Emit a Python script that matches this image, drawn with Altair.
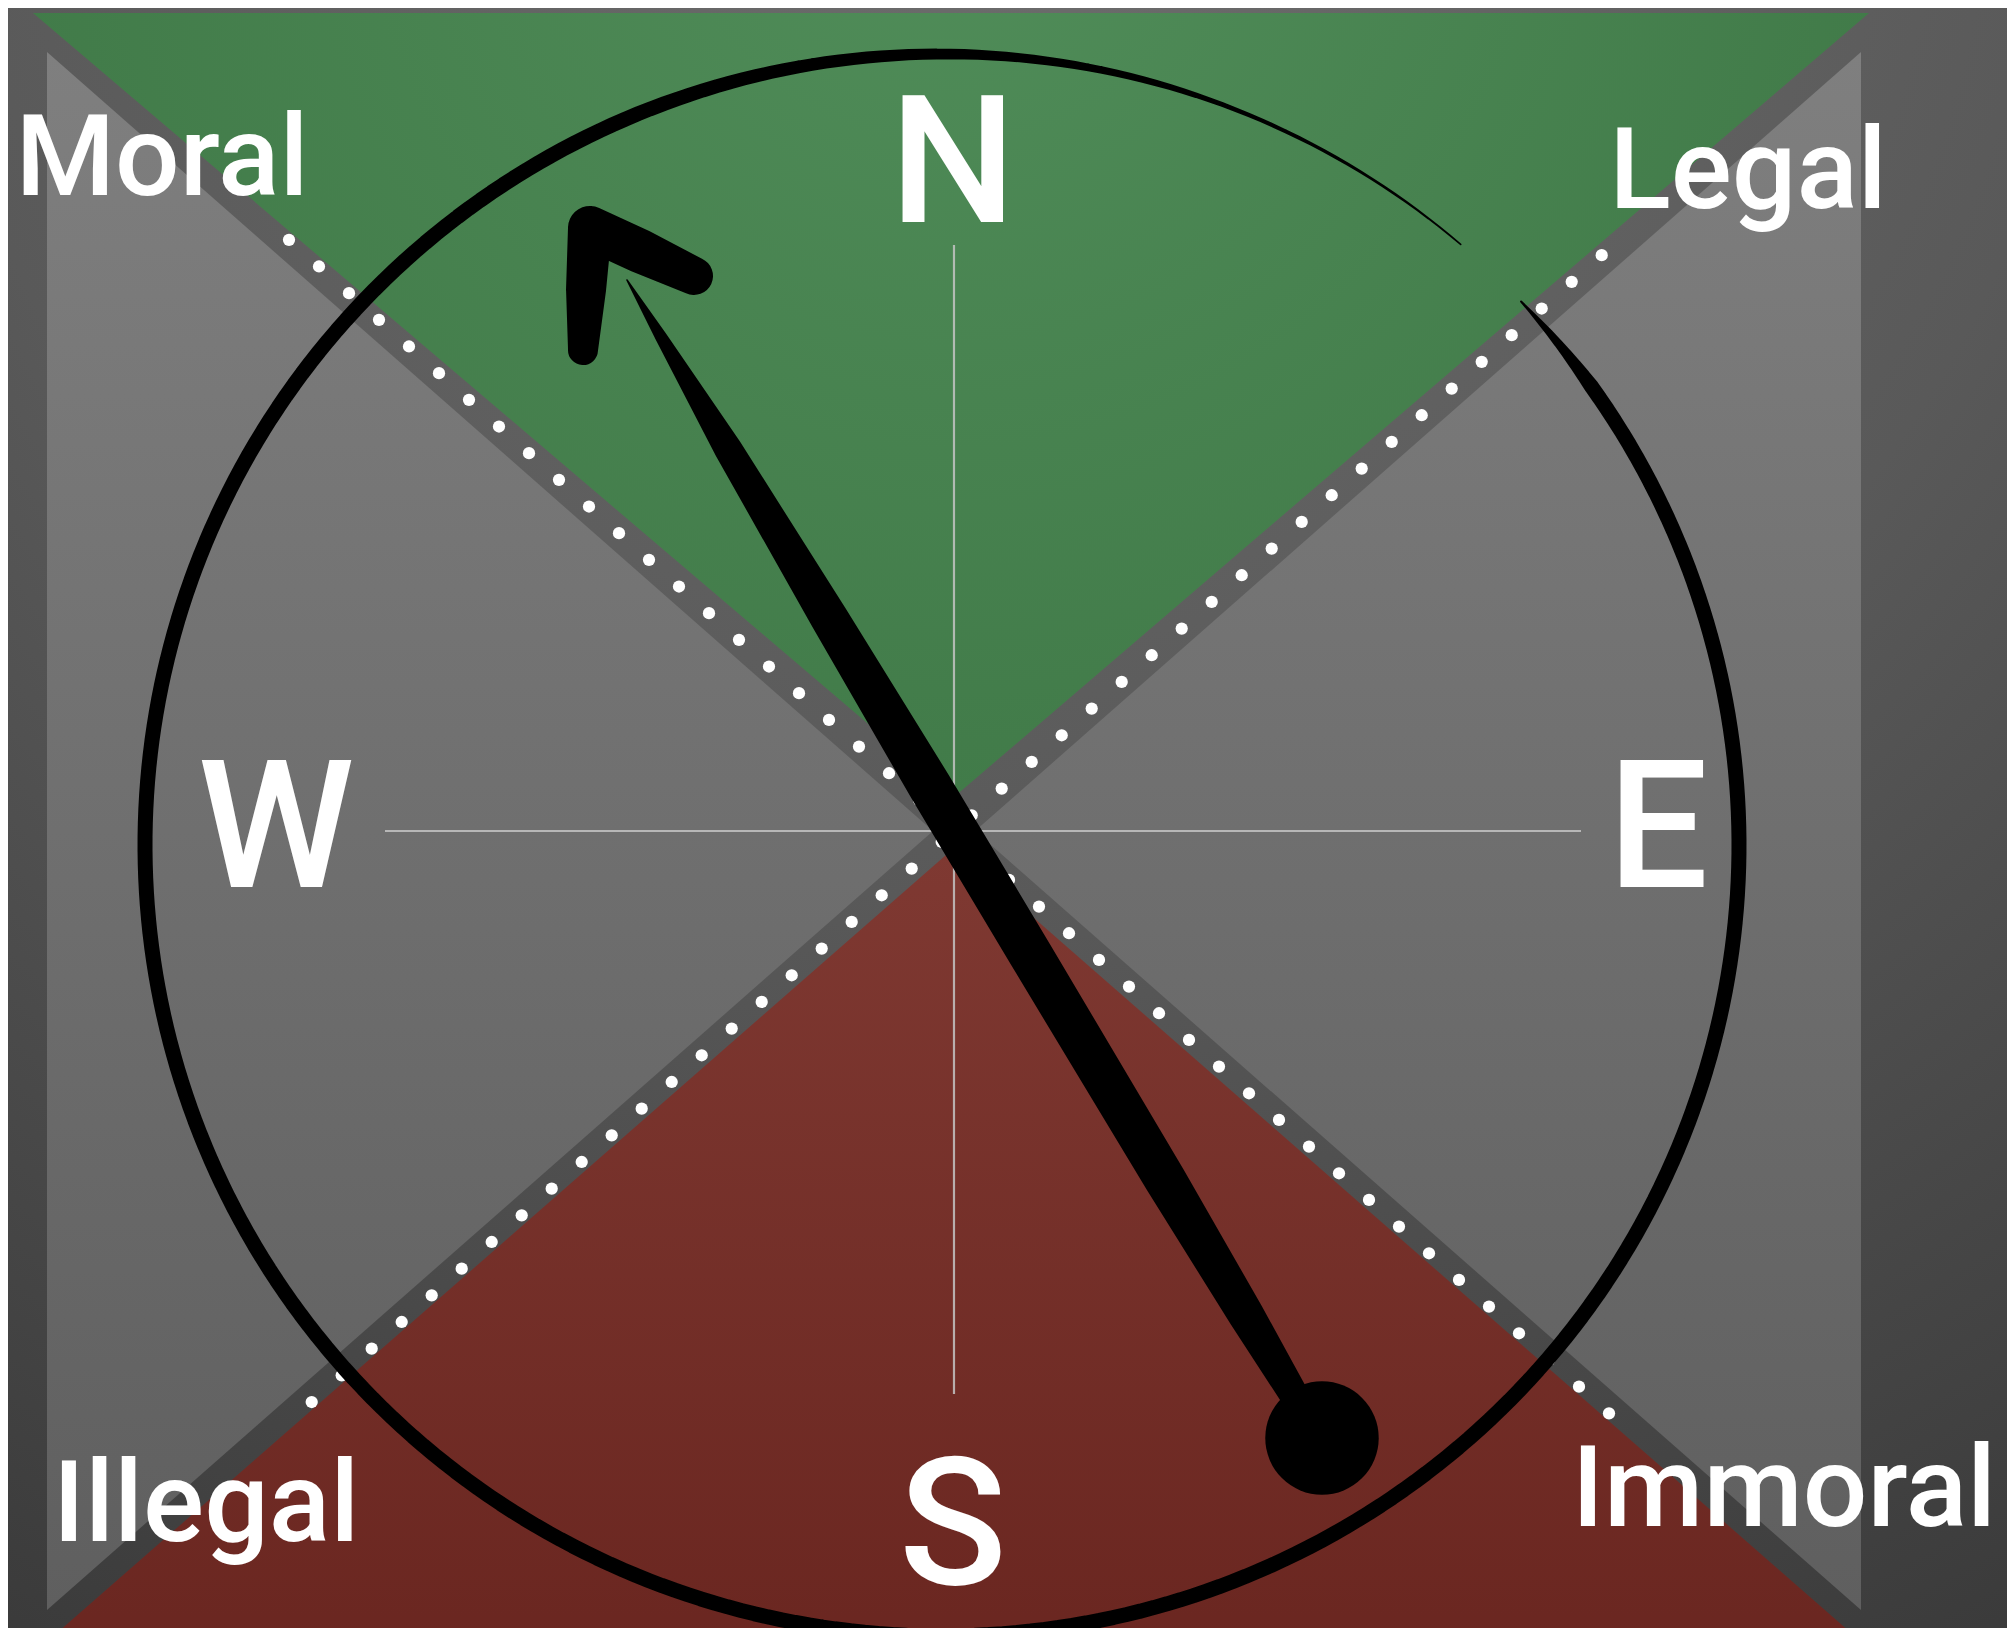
import altair as alt
import numpy as np
import pandas as pd

# ---- canvas (page pixels; the chart starts at the 8px page margin) ----
W, H = 1999, 1620
X0, Y0 = 8, 8
xs = alt.Scale(domain=[X0, X0 + W], nice=False, zero=False)
ys = alt.Scale(domain=[Y0, Y0 + H], nice=False, zero=False, reverse=True)


def X(f="x"):
    return alt.X(f"{f}:Q", scale=xs, axis=None)


def Y(f="y"):
    return alt.Y(f"{f}:Q", scale=ys, axis=None)


# ---- shapes ----
CENTER = (954, 831)
GREEN_X = [33, 954, 1869]
GREEN_TOP = [13, 13, 13]
GREEN_BOTTOM = [13, 797, 13]
RED_X = [26, 954, 1882]
RED_BOTTOM = [1660, 1660, 1660]
RED_TOP = [1660, 848, 1660]
GRAYL_Y = [52, 831, 1610]
GRAYL_X = [47, 47, 47]
GRAYL_X2 = [47, 933, 47]
GRAYR_Y = [52, 831, 1610]
GRAYR_X = [1861, 1861, 1861]
GRAYR_X2 = [1861, 975, 1861]

DOT_SLOPE = 0.889
DOTS_A_X = list(range(289, 1610, 30))       # upper-left -> lower-right band
DOTS_B_X = [941.7 + 30 * k for k in range(-21, 23)]  # lower-left -> upper-right band

CROSS_X = [954, 385]
CROSS_X2 = [954, 1581]
CROSS_Y = [245, 831]
CROSS_Y2 = [1394, 831]

CIRCLE = dict(cx=942, cy=845, rx=797, ry=791, start=43.4, sweep=354.8)
CIRCLE_W_S = [0, 8, 290, 313, 335, 354.8]
CIRCLE_W = [2, 15, 15, 11, 4.5, 1.5]

NEEDLE_T = [0, 0.05, 0.15, 0.3, 0.45, 0.6, 0.8, 0.92, 1.0]
NEEDLE_W = [1.5, 12, 28, 38, 44, 44, 42, 36, 28]
NEEDLE_FROM = (627, 280)
NEEDLE_TO = (1300, 1405)
BALL = (1322, 1438)
BALL_R = 64

ARROW_X = [583, 586, 590, 640, 694]
ARROW_Y = [350, 290, 228, 251, 276]
ARROW_W = [30, 40, 44, 44, 38]

LABELS = ["Moral", "Legal", "Illegal", "Immoral"]
LABEL_X = [162, 1748, 206, 1784]
LABEL_Y = [195, 208, 1541, 1526]
COMPASS = ["N", "S", "W", "E"]
COMPASS_X = [953, 953, 276, 1658]
COMPASS_Y = [222, 1584, 887, 887]

FONT = "Roboto"


def lin(c1, c2):
    return {"gradient": "linear", "x1": 0, "y1": 0, "x2": 0, "y2": 1,
            "stops": [{"offset": 0, "color": c1}, {"offset": 1, "color": c2}]}


def rad(stops, cx, cy, r):
    return {"gradient": "radial", "x1": cx, "y1": cy, "r1": 0, "x2": cx, "y2": cy, "r2": r,
            "stops": [{"offset": o, "color": c} for o, c in stops]}


# background
bg = alt.Chart(pd.DataFrame({"x": [0], "x2": [2015], "y": [0], "y2": [1643]})).mark_rect(
    clip=True, fill=rad([(0, "#6e6e6e"), (0.45, "#595959"), (1, "#303030")], 0.5, 0.0, 1.2), strokeWidth=0
).encode(x=X(), x2=alt.X2("x2"), y=Y(), y2=alt.Y2("y2"))

gray_fill = lin("#7f7f7f", "#5f5f5f")
gray_l = alt.Chart(pd.DataFrame({"y": GRAYL_Y, "x": GRAYL_X, "x2": GRAYL_X2})).mark_area(
    orient="horizontal", interpolate="linear", fill=gray_fill, clip=True
).encode(y=Y(), x=X(), x2=alt.X2("x2"))
gray_r = alt.Chart(pd.DataFrame({"y": GRAYR_Y, "x": GRAYR_X, "x2": GRAYR_X2})).mark_area(
    orient="horizontal", interpolate="linear", fill=gray_fill, clip=True
).encode(y=Y(), x=X(), x2=alt.X2("x2"))

green = alt.Chart(pd.DataFrame({"x": GREEN_X, "y": GREEN_TOP, "y2": GREEN_BOTTOM})).mark_area(
    orient="vertical", interpolate="linear",
    fill=rad([(0, "#518e5a"), (1, "#397140")], 0.5, 0.2, 0.78), clip=True
).encode(x=X(), y=Y(), y2=alt.Y2("y2"))

red = alt.Chart(pd.DataFrame({"x": RED_X, "y": RED_BOTTOM, "y2": RED_TOP})).mark_area(
    orient="vertical", interpolate="linear", fill=lin("#7f3932", "#6a2620"), clip=True
).encode(x=X(), y=Y(), y2=alt.Y2("y2"))

cross = alt.Chart(pd.DataFrame({"x": CROSS_X, "x2": CROSS_X2, "y": CROSS_Y, "y2": CROSS_Y2})).mark_rule(
    color="#c4c4c4", strokeWidth=2.2, opacity=0.85
).encode(x=X(), x2=alt.X2("x2"), y=Y(), y2=alt.Y2("y2"))

cxc, cyc = CENTER
dots_df = pd.DataFrame({
    "x": list(DOTS_A_X) + list(DOTS_B_X),
    "y": [cyc + DOT_SLOPE * (x - cxc) for x in DOTS_A_X] + [cyc - DOT_SLOPE * (x - cxc) for x in DOTS_B_X],
})
dots = alt.Chart(dots_df).mark_circle(color="white", opacity=1, size=150).encode(x=X(), y=Y())

# circle (brush stroke that tapers at the top right)
s = np.arange(0, CIRCLE["sweep"] + 0.01, 1.0)
th = np.radians(CIRCLE["start"] - s)
circ_df = pd.DataFrame({
    "x": CIRCLE["cx"] + CIRCLE["rx"] * np.cos(th),
    "y": CIRCLE["cy"] - CIRCLE["ry"] * np.sin(th),
    "w": np.interp(s, CIRCLE_W_S, CIRCLE_W),
    "i": np.arange(len(s)),
})
circle = alt.Chart(circ_df).mark_trail(color="black", clip=True).encode(
    x=X(), y=Y(), size=alt.Size("w:Q", scale=None, legend=None), order="i:Q")

# needle
t = np.array(NEEDLE_T)
nd = pd.DataFrame({
    "x": list(NEEDLE_FROM[0] + (NEEDLE_TO[0] - NEEDLE_FROM[0]) * t) + [BALL[0]],
    "y": list(NEEDLE_FROM[1] + (NEEDLE_TO[1] - NEEDLE_FROM[1]) * t) + [BALL[1]],
    "w": NEEDLE_W + [28],
    "i": list(range(len(t) + 1)),
})
needle = alt.Chart(nd).mark_trail(color="black").encode(
    x=X(), y=Y(), size=alt.Size("w:Q", scale=None, legend=None), order="i:Q")

arrow = alt.Chart(pd.DataFrame({"x": ARROW_X, "y": ARROW_Y, "w": ARROW_W, "i": range(len(ARROW_X))})).mark_trail(
    color="black").encode(x=X(), y=Y(), size=alt.Size("w:Q", scale=None, legend=None), order="i:Q")
arrow_corner = alt.Chart(pd.DataFrame({"x": [ARROW_X[2]], "y": [ARROW_Y[2]]})).mark_circle(
    color="black", opacity=1, size=420).encode(x=X(), y=Y())

ball = alt.Chart(pd.DataFrame({"x": [BALL[0]], "y": [BALL[1]]})).mark_circle(
    color="black", opacity=1, size=float(np.pi * BALL_R ** 2)).encode(x=X(), y=Y())

labels = alt.Chart(pd.DataFrame({"t": LABELS, "x": LABEL_X, "y": LABEL_Y})).mark_text(
    font=FONT, fontSize=114, fontWeight=500, color="white", align="center", baseline="alphabetic"
).encode(x=X(), y=Y(), text="t:N")
compass = alt.Chart(pd.DataFrame({"t": COMPASS, "x": COMPASS_X, "y": COMPASS_Y})).mark_text(
    font=FONT, fontSize=178, fontWeight=500, color="white", align="center", baseline="alphabetic"
).encode(x=X(), y=Y(), text="t:N")

chart = alt.layer(
    bg, gray_l, gray_r, green, red, cross, dots, circle, labels, compass, needle, arrow, arrow_corner, ball
).properties(
    width=W, height=H, padding=0, autosize=alt.AutoSizeParams(type="none"), background="#ffffff"
).configure_view(strokeWidth=0)

chart.save("out.html", embed_options={"renderer": "svg", "actions": False})
